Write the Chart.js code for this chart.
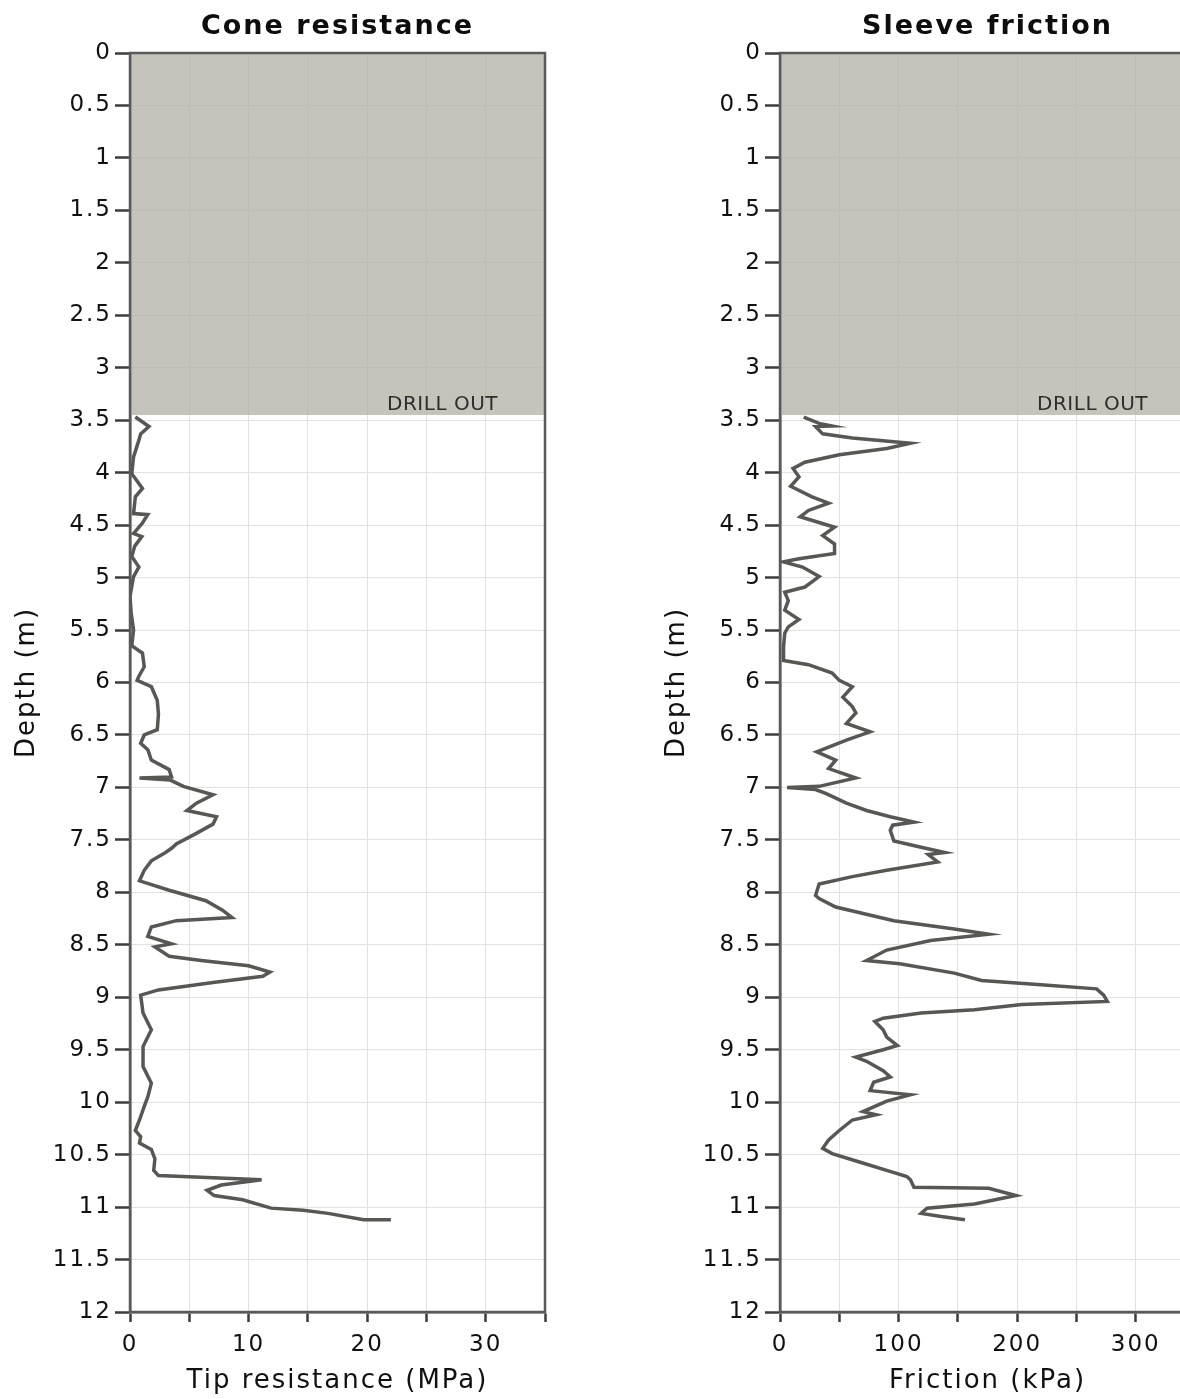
<!DOCTYPE html>
<html>
<head>
<meta charset="utf-8">
<title>CPT log</title>
<script src="https://cdn.jsdelivr.net/npm/chart.js@4.4.1/dist/chart.umd.min.js"></script>
<style>
  html, body { margin: 0; padding: 0; background: #ffffff; overflow: hidden; }
  #wrap { position: relative; width: 1180px; height: 1399px; overflow: hidden; }
  .panel { position: absolute; top: 0; width: 570px; height: 1399px; }
  #p1 { left: 0; }
  #p2 { left: 650px; }
</style>
</head>
<body>
<div id="wrap">
  <div class="panel" id="p1"><canvas id="c1" width="570" height="1399"></canvas></div>
  <div class="panel" id="p2"><canvas id="c2" width="570" height="1399"></canvas></div>
</div>
<script>
// ---------------- DATA ----------------
const depthRange = [0, 12];
const depthStep = 0.5;
const drillOutDepth = 3.45;
const drillOutLabel = 'DRILL OUT';
const depthTitle = 'Depth (m)';

const coneTitle = 'Cone resistance';
const coneAxisTitle = 'Tip resistance (MPa)';
const coneRange = [0, 35];
const coneGridStep = 5;
const coneLabelStep = 10;
const coneDepth = [
  3.47, 3.56, 3.63, 3.69, 3.85, 4.01, 4.15, 4.23, 4.39, 4.40, 4.48, 4.58, 4.61, 4.70, 4.80,
  4.90, 4.99, 5.18, 5.34, 5.50, 5.65, 5.72, 5.85, 5.94, 5.98, 6.04, 6.17, 6.30, 6.45, 6.50,
  6.58, 6.64, 6.74, 6.83, 6.90, 6.91, 6.93, 6.99, 7.07, 7.15, 7.22, 7.28, 7.35, 7.45, 7.54,
  7.58, 7.62, 7.70, 7.79, 7.89, 7.98, 8.08, 8.17, 8.24, 8.27, 8.33, 8.42, 8.49, 8.52, 8.61,
  8.65, 8.70, 8.76, 8.80, 8.86, 8.93, 8.98, 9.15, 9.31, 9.47, 9.66, 9.82, 9.95, 10.04, 10.17,
  10.27, 10.33, 10.39, 10.45, 10.54, 10.65, 10.70, 10.74, 10.79, 10.84, 10.89, 10.93, 11.01, 11.03, 11.06,
  11.12, 11.12
];
const coneValues = [
  0.45, 1.6, 0.9, 0.75, 0.3, 0.15, 1.05, 0.45, 0.3, 1.5, 1.05, 0.3, 1.0, 0.4, 0.15,
  0.75, 0.3, 0.0, 0.1, 0.3, 0.15, 1.05, 1.2, 0.75, 0.6, 1.8, 2.3, 2.4, 2.3, 1.2,
  0.9, 1.5, 1.8, 3.3, 3.5, 0.8, 3.4, 4.5, 7.0, 5.6, 4.8, 7.3, 7.0, 5.4, 3.9,
  3.5, 3.0, 1.8, 1.2, 0.8, 3.3, 6.4, 7.8, 8.6, 3.9, 1.8, 1.5, 3.5, 2.1, 3.3,
  6.0, 10.0, 11.8, 11.2, 7.0, 2.4, 0.9, 1.1, 1.8, 1.1, 1.1, 1.8, 1.5, 1.2, 0.8,
  0.45, 0.9, 0.8, 1.8, 2.1, 2.0, 2.4, 11.1, 7.7, 6.5, 7.1, 9.5, 11.9, 14.6, 16.7,
  19.7, 22.0
];

const frictionTitle = 'Sleeve friction';
const frictionAxisTitle = 'Friction (kPa)';
const frictionRange = [0, 350];
const frictionGridStep = 50;
const frictionLabelStep = 100;
const frictionDepth = [
  3.47, 3.53, 3.555, 3.56, 3.63, 3.67, 3.72, 3.77, 3.83, 3.90, 3.96, 4.04, 4.13, 4.23, 4.29,
  4.36, 4.42, 4.52, 4.60, 4.68, 4.77, 4.82, 4.85, 4.90, 4.99, 5.09, 5.14, 5.22, 5.31, 5.40,
  5.47, 5.53, 5.66, 5.79, 5.83, 5.91, 5.98, 6.04, 6.14, 6.23, 6.29, 6.39, 6.47, 6.55, 6.66,
  6.74, 6.82, 6.91, 6.99, 7.00, 7.02, 7.06, 7.15, 7.22, 7.28, 7.33, 7.36, 7.41, 7.51, 7.57,
  7.62, 7.64, 7.71, 7.79, 7.85, 7.92, 8.03, 8.06, 8.14, 8.27, 8.35, 8.40, 8.46, 8.55, 8.65,
  8.68, 8.77, 8.84, 8.88, 8.92, 8.98, 9.04, 9.07, 9.12, 9.15, 9.20, 9.23, 9.31, 9.38, 9.46,
  9.50, 9.57, 9.61, 9.70, 9.76, 9.81, 9.89, 9.93, 9.99, 10.09, 10.12, 10.17, 10.27, 10.36, 10.44,
  10.49, 10.57, 10.65, 10.71, 10.74, 10.81, 10.82, 10.89, 10.97, 11.01, 11.06, 11.09, 11.12
];
const frictionValues = [
  20, 33, 44, 30, 36, 61, 110, 90, 50, 21, 11, 16, 9, 27, 41,
  24, 17, 46, 36, 46, 46, 16, 3, 19, 33, 21, 4, 7, 4, 16,
  7, 4, 3, 3, 24, 44, 50, 61, 53, 61, 64, 56, 76, 56, 31,
  47, 41, 64, 33, 6, 30, 39, 56, 73, 93, 113, 95, 93, 96, 119,
  139, 125, 133, 90, 61, 33, 30, 33, 47, 96, 147, 176, 127, 90, 73,
  101, 147, 170, 220, 267, 273, 276, 204, 164, 119, 87, 80, 87, 90, 99,
  87, 64, 73, 87, 93, 79, 76, 110, 90, 70, 81, 61, 50, 41, 36,
  44, 67, 90, 107, 110, 113, 176, 199, 164, 124, 119, 136, 156
];

// ---------------- RENDERING ----------------
const FONT = 'DejaVu Sans';
const SPACING = '2px';

function setSpacing(chart) {
  if ('letterSpacing' in chart.ctx) chart.ctx.letterSpacing = SPACING;
}

const spacingPlugin = {
  id: 'spacing',
  beforeUpdate: setSpacing,
  beforeLayout: setSpacing,
  beforeDraw: setSpacing
};

const drillPlugin = {
  id: 'drill',
  beforeDatasetsDraw(chart) {
    const { ctx, chartArea, scales } = chart;
    const yTop = scales.y.getPixelForValue(depthRange[0]);
    const yBot = scales.y.getPixelForValue(drillOutDepth);
    ctx.save();
    // translucent overlay so the grid shows only faintly through the shaded band
    ctx.fillStyle = 'rgba(179,175,164,0.75)';
    ctx.fillRect(chartArea.left, yTop, chartArea.right - chartArea.left, yBot - yTop);
    if ('letterSpacing' in ctx) ctx.letterSpacing = '0.5px';
    ctx.font = '20px "' + FONT + '"';
    ctx.fillStyle = '#2e2e2e';
    ctx.textAlign = 'right';
    ctx.textBaseline = 'alphabetic';
    ctx.fillText(drillOutLabel, chartArea.right - 47, yBot - 5);
    ctx.restore();
  },
  afterDraw(chart) {
    const { ctx, chartArea } = chart;
    ctx.save();
    ctx.strokeStyle = '#5a5a5a';
    ctx.lineWidth = 2.5;
    ctx.strokeRect(chartArea.left, chartArea.top, chartArea.right - chartArea.left, chartArea.bottom - chartArea.top);
    ctx.restore();
  }
};

function makeChart(canvasId, title, xTitle, depths, values, xRange, gridStep, labelStep) {
  const points = depths.map((d, i) => ({ x: values[i], y: d }));
  return new Chart(document.getElementById(canvasId), {
    type: 'scatter',
    data: {
      datasets: [{
        data: points,
        showLine: true,
        borderColor: '#575753',
        borderWidth: 3.5,
        pointRadius: 0,
        pointHoverRadius: 0,
        tension: 0,
        fill: false
      }]
    },
    options: {
      responsive: false,
      animation: false,
      devicePixelRatio: 1,
      layout: { padding: { left: 0, right: 25, top: 0, bottom: 0 } },
      plugins: {
        legend: { display: false },
        tooltip: { enabled: false },
        title: {
          display: true,
          text: title,
          fullSize: false,
          color: '#0d0d0d',
          font: { family: FONT, size: 27, weight: 'bold' },
          padding: { top: 11, bottom: 9.6 }
        }
      },
      scales: {
        x: {
          type: 'linear',
          position: 'bottom',
          min: xRange[0],
          max: xRange[1],
          ticks: {
            stepSize: gridStep,
            autoSkip: false,
            maxRotation: 0,
            color: '#111111',
            padding: 9,
            font: { family: FONT, size: 23 },
            callback: (v) => (Math.abs(v % labelStep) < 1e-9 ? String(v) : '')
          },
          grid: {
            color: '#e2e2e2',
            lineWidth: 1,
            drawTicks: true,
            tickLength: 10,
            tickColor: '#3c3c3c',
            tickWidth: 2.5
          },
          border: { display: true, color: '#5a5a5a', width: 2.5 },
          title: {
            display: true,
            text: xTitle,
            color: '#111111',
            font: { family: FONT, size: 26 },
            padding: { top: 0, bottom: 2 }
          },
          afterFit(s) { s.height = 87; }
        },
        y: {
          type: 'linear',
          reverse: true,
          min: depthRange[0],
          max: depthRange[1],
          ticks: {
            stepSize: depthStep,
            autoSkip: false,
            color: '#111111',
            padding: 3,
            font: { family: FONT, size: 23 },
            callback: (v) => String(Math.round(v * 10) / 10)
          },
          grid: {
            color: '#e2e2e2',
            lineWidth: 1,
            drawTicks: true,
            tickLength: 15,
            tickColor: '#3c3c3c',
            tickWidth: 2.5
          },
          border: { display: true, color: '#5a5a5a', width: 2.5 },
          title: {
            display: true,
            text: depthTitle,
            color: '#111111',
            font: { family: FONT, size: 26 },
            padding: { top: 12, bottom: 0 }
          },
          afterFit(s) { s.width = 130; }
        }
      }
    },
    plugins: [spacingPlugin, drillPlugin]
  });
}

makeChart('c1', coneTitle, coneAxisTitle, coneDepth, coneValues, coneRange, coneGridStep, coneLabelStep);
makeChart('c2', frictionTitle, frictionAxisTitle, frictionDepth, frictionValues, frictionRange, frictionGridStep, frictionLabelStep);
</script>
</body>
</html>
